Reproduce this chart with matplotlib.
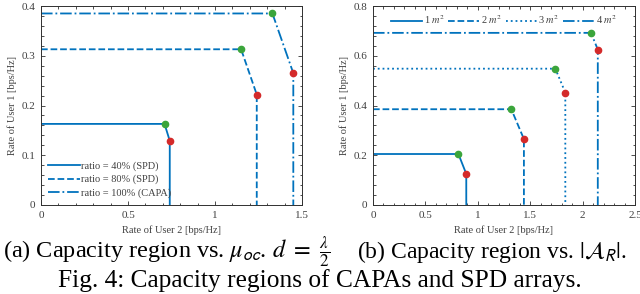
import matplotlib
matplotlib.use("Agg")
import matplotlib.pyplot as plt
from matplotlib.ticker import AutoMinorLocator

plt.rcParams['font.family'] = ['Liberation Serif', 'DejaVu Serif']
plt.rcParams['mathtext.fontset'] = 'stix'

# (a) capacity region vs ratio
labels_a = ['ratio = 40% (SPD)', 'ratio = 80% (SPD)', 'ratio = 100% (CAPA)']
green_x_a = [0.71, 1.15, 1.33]
green_y_a = [0.163, 0.313, 0.385]
red_x_a = [0.74, 1.24, 1.45]
red_y_a = [0.129, 0.222, 0.265]
styles_a = ['-', '--', '-.']

# (b) capacity region vs aperture size
labels_b = ['1 $m^2$', '2 $m^2$', '3 $m^2$', '4 $m^2$']
green_x_b = [0.815, 1.32, 1.74, 2.08]
green_y_b = [0.205, 0.385, 0.548, 0.692]
red_x_b = [0.89, 1.44, 1.835, 2.145]
red_y_b = [0.125, 0.265, 0.452, 0.625]
styles_b = ['-', '--', ':', '-.']

blue = '#0072BD'
green = '#3BA53B'
red = '#D42A2A'
gray = '#404040'

fig = plt.figure(figsize=(6.4, 2.94), dpi=100)
ax1 = fig.add_axes([41/640, 89/294, 261/640, 199/294])
ax2 = fig.add_axes([373/640, 89/294, 262/640, 199/294])


def draw_region(ax, gx, gy, rx, ry, styles, labels):
    for i in range(len(gx)):
        xs = [0, gx[i], rx[i], rx[i]]
        ys = [gy[i], gy[i], ry[i], 0]
        ax.plot(xs, ys, linestyle=styles[i], color=blue, lw=1.3, label=labels[i])
        ax.plot(gx[i], gy[i], 'o', color=green, ms=4.5, zorder=5)
        ax.plot(rx[i], ry[i], 'o', color=red, ms=4.5, zorder=5)


def style_axes(ax):
    ax.xaxis.set_minor_locator(AutoMinorLocator(5))
    ax.yaxis.set_minor_locator(AutoMinorLocator(5))
    ax.tick_params(which='both', direction='in', top=True, right=True,
                   labelsize=8, labelcolor=gray, color='#303030', width=0.6)
    ax.tick_params(which='major', length=3, pad=4)
    ax.tick_params(which='minor', length=1.8)
    for sp in ax.spines.values():
        sp.set_linewidth(0.7)
        sp.set_color('#303030')
    ax.set_xlabel('Rate of User 2 [bps/Hz]', fontsize=7.5, color=gray, labelpad=4)
    ax.set_ylabel('Rate of User 1 [bps/Hz]', fontsize=7.5, color=gray, labelpad=3)


draw_region(ax1, green_x_a, green_y_a, red_x_a, red_y_a, styles_a, labels_a)
ax1.set_xlim(0, 1.5)
ax1.set_ylim(0, 0.4)
ax1.set_xticks([0, 0.5, 1, 1.5])
ax1.set_xticklabels(['0', '0.5', '1', '1.5'])
ax1.set_yticks([0, 0.1, 0.2, 0.3, 0.4])
ax1.set_yticklabels(['0', '0.1', '0.2', '0.3', '0.4'])
style_axes(ax1)
ax1.legend(loc='lower left', frameon=False, fontsize=7.5, handlelength=3.0,
           handletextpad=0.1, labelspacing=0.35, borderaxespad=0.3,
           labelcolor=gray)

draw_region(ax2, green_x_b, green_y_b, red_x_b, red_y_b, styles_b, labels_b)
ax2.set_xlim(0, 2.5)
ax2.set_ylim(0, 0.8)
ax2.set_xticks([0, 0.5, 1, 1.5, 2, 2.5])
ax2.set_xticklabels(['0', '0.5', '1', '1.5', '2', '2.5'])
ax2.set_yticks([0, 0.2, 0.4, 0.6, 0.8])
ax2.set_yticklabels(['0', '0.2', '0.4', '0.6', '0.8'])
style_axes(ax2)
ax2.legend(loc='upper center', bbox_to_anchor=(0.5, 1.0), ncol=4, frameon=False,
           fontsize=7.5, handlelength=3.0, handletextpad=0.15, columnspacing=0.3,
           borderaxespad=0.3, labelcolor=gray)

fig.text(3/640, 1 - 258/294, r'(a) Capacity region vs. $\mu_{\mathsf{oc}}$. $d\ =\ \frac{\lambda}{2}$',
         fontsize=17.5, va='baseline', ha='left')
fig.text(357/640, 1 - 258/294, r'(b) Capacity region vs. $|\mathcal{A}_{\mathsf{R}}|$.',
         fontsize=17, va='baseline', ha='left')
fig.text(0.5, 1 - 287/294, 'Fig. 4: Capacity regions of CAPAs and SPD arrays.',
         fontsize=18.3, va='baseline', ha='center')

fig.savefig('out.png', dpi=100)
